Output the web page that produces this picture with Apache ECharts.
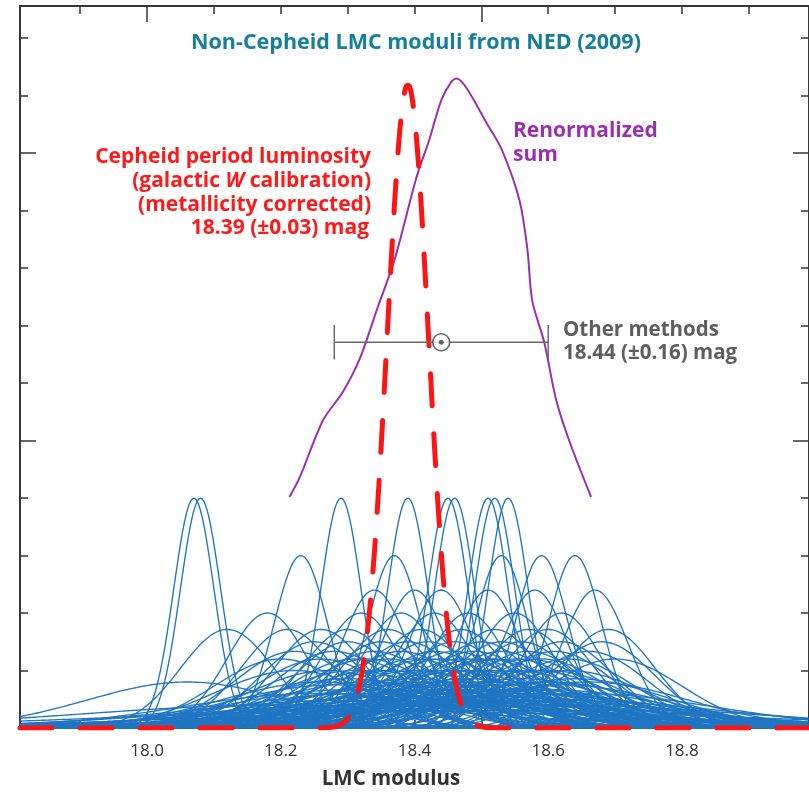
<!DOCTYPE html>
<html>
<head>
<meta charset="utf-8">
<title>Non-Cepheid LMC moduli</title>
<script src="https://cdn.jsdelivr.net/npm/echarts@6/dist/echarts.min.js"></script>
<style>
html, body { margin: 0; padding: 0; background: #fff; }
#chart { width: 809px; height: 794px; }
</style>
</head>
<body>
<div id="chart"></div>
<script>
// plotted range (the figure is cropped just short of 19.0 on the right)
var xMin = 17.81
var xMax = 18.99
var yMax = 12.56

// non-Cepheid moduli from NED: centre and quoted 1-sigma error (mag)
var nedMu = [
  18.07, 18.08, 18.29, 18.39, 18.45, 18.46, 18.51, 18.52, 18.54,
  18.23, 18.37, 18.53, 18.59, 18.64,
  18.34, 18.40, 18.44, 18.51, 18.58, 18.67,
  18.18, 18.32, 18.43, 18.48, 18.55, 18.38, 18.62,
  18.12, 18.26, 18.30, 18.36, 18.41, 18.47, 18.57, 18.60, 18.69, 18.21, 18.52,
  18.25, 18.35, 18.42, 18.50, 18.56, 18.62, 18.30, 18.39, 18.46, 18.53, 18.68,
  18.28, 18.38, 18.46, 18.53, 18.61, 18.22, 18.34, 18.43, 18.49, 18.57, 18.66,
  18.20, 18.31, 18.40, 18.44, 18.49, 18.55, 18.63, 18.26, 18.36, 18.47, 18.52, 18.59, 18.70,
  18.33, 18.42, 18.51, 18.57,
  18.27, 18.36, 18.45, 18.52, 18.58, 18.22, 18.31, 18.40, 18.49, 18.55, 18.63,
  18.34, 18.43, 18.47, 18.60,
  18.30, 18.40, 18.48, 18.56, 18.64,
  18.06, 18.33, 18.42, 18.50, 18.60, 18.26, 18.38, 18.46, 18.54, 18.66,
  18.28, 18.37, 18.45, 18.53, 18.62,
  18.35, 18.44, 18.52, 18.60, 18.30, 18.41, 18.48, 18.56,
  18.25, 18.40, 18.48, 18.56, 18.65, 18.32, 18.58,
  18.36, 18.46, 18.54,
  18.30, 18.45, 18.55, 18.38, 18.50, 18.62,
  18.40, 18.52,
  18.20, 18.42, 18.60, 18.35, 18.50,
  18.35, 18.50
]
var nedSigma = [
  0.03, 0.03, 0.03, 0.03, 0.03, 0.03, 0.03, 0.03, 0.03,
  0.04, 0.04, 0.04, 0.04, 0.04,
  0.05, 0.05, 0.05, 0.05, 0.05, 0.05,
  0.06, 0.06, 0.06, 0.06, 0.06, 0.06, 0.06,
  0.07, 0.07, 0.07, 0.07, 0.07, 0.07, 0.07, 0.07, 0.07, 0.07, 0.07,
  0.08, 0.08, 0.08, 0.08, 0.08, 0.08, 0.08, 0.08, 0.08, 0.08, 0.08,
  0.09, 0.09, 0.09, 0.09, 0.09, 0.09, 0.09, 0.09, 0.09, 0.09, 0.09,
  0.10, 0.10, 0.10, 0.10, 0.10, 0.10, 0.10, 0.10, 0.10, 0.10, 0.10, 0.10, 0.10,
  0.10, 0.10, 0.10, 0.10,
  0.12, 0.12, 0.12, 0.12, 0.12, 0.12, 0.12, 0.12, 0.12, 0.12, 0.12,
  0.12, 0.12, 0.12, 0.12,
  0.14, 0.14, 0.14, 0.14, 0.14,
  0.15, 0.15, 0.15, 0.15, 0.15, 0.15, 0.15, 0.15, 0.15, 0.15,
  0.16, 0.16, 0.16, 0.16, 0.16,
  0.18, 0.18, 0.18, 0.18, 0.18, 0.18, 0.18, 0.18,
  0.20, 0.20, 0.20, 0.20, 0.20, 0.20, 0.20,
  0.22, 0.22, 0.22,
  0.25, 0.25, 0.25, 0.25, 0.25, 0.25,
  0.28, 0.28,
  0.30, 0.30, 0.30, 0.30, 0.30,
  0.40, 0.40
]
// every blue curve has the same area: peak height = nedArea / sigma
var nedArea = 0.12

// Cepheid period-luminosity result (red dashed)
var cephMu = 18.39
var cephSigma = 0.031
var cephPeak = 11.2

// renormalized sum (purple)
var sumX = [18.213, 18.228, 18.263, 18.293, 18.318, 18.345, 18.370, 18.403, 18.422, 18.440, 18.455,
  18.463, 18.478, 18.508, 18.531, 18.557, 18.569, 18.576, 18.594, 18.612, 18.631, 18.664]
var sumY = [4.02, 4.35, 5.35, 5.85, 6.42, 7.32, 8.14, 9.58, 10.23, 10.92, 11.24,
  11.30, 11.13, 10.52, 10.05, 9.18, 8.31, 7.44, 6.71, 5.70, 5.01, 4.02]

// other methods: 18.44 +/- 0.16
var otherMu = 18.44
var otherErr = 0.16
var otherLevel = 6.71
var capHalf = 0.3

// ticks
var xTicks = [17.9, 18.0, 18.1, 18.2, 18.3, 18.4, 18.5, 18.6, 18.7, 18.8, 18.9]
var xMajor = [18.0, 18.5]
var xLabels = [18.0, 18.2, 18.4, 18.6, 18.8]
var yTicks = [1, 2, 3, 4, 5, 6, 7, 8, 9, 10, 11, 12]
var yMajor = [5, 10]

var font = "'Open Sans', 'Noto Sans', sans-serif"
var frameColor = '#363636'

function gauss (x, mu, s, amp) {
  return amp * Math.exp(-(x - mu) * (x - mu) / (2 * s * s))
}

function curve (mu, s, amp, step) {
  var pts = []
  for (var x = xMin; x <= xMax + 1e-9; x += step) {
    pts.push([x, gauss(x, mu, s, amp)])
  }
  return pts
}

var series = []
for (var i = 0; i < nedMu.length; i++) {
  series.push({
    type: 'line',
    data: curve(nedMu[i], nedSigma[i], nedArea / nedSigma[i], 0.003),
    showSymbol: false,
    silent: true,
    lineStyle: { color: '#1f75c2', width: 1.35 },
    z: 2
  })
}

series.push({
  type: 'line',
  data: sumX.map(function (x, k) { return [x, sumY[k]] }),
  showSymbol: false,
  smooth: 0.3,
  silent: true,
  lineStyle: { color: '#9b2fae', width: 2 },
  z: 3
})

series.push({
  type: 'line',
  data: curve(cephMu, cephSigma, cephPeak, 0.002),
  showSymbol: false,
  silent: true,
  lineStyle: { color: '#ff1414', width: 5, type: [32, 28], cap: 'round' },
  z: 4
})

// error bar for the other methods
var grey = '#6a6a6a'
series.push({
  type: 'line',
  data: [[otherMu - otherErr, otherLevel], [otherMu + otherErr, otherLevel]],
  showSymbol: false, silent: true,
  lineStyle: { color: grey, width: 1.5 },
  z: 5
})
;[otherMu - otherErr, otherMu + otherErr].forEach(function (x) {
  series.push({
    type: 'line',
    data: [[x, otherLevel - capHalf], [x, otherLevel + capHalf]],
    showSymbol: false, silent: true,
    lineStyle: { color: grey, width: 1.5 },
    z: 5
  })
})
series.push({
  type: 'scatter',
  data: [[otherMu, otherLevel]],
  symbol: 'circle',
  symbolSize: 17,
  silent: true,
  itemStyle: { color: '#fff', borderColor: '#444', borderWidth: 1.6 },
  z: 6
})
series.push({
  type: 'scatter',
  data: [[otherMu, otherLevel]],
  symbol: 'circle',
  symbolSize: 5,
  silent: true,
  itemStyle: { color: '#444' },
  z: 7
})

function xAxisDef (pos, ticks, len, showLine, labels) {
  return {
    type: 'value', min: xMin, max: xMax, position: pos,
    axisLine: { show: showLine, onZero: false, lineStyle: { color: frameColor, width: 2 } },
    axisTick: { show: true, inside: true, length: len, customValues: ticks, lineStyle: { color: frameColor, width: 1.5 } },
    axisLabel: labels ? {
      customValues: labels, color: '#333', fontSize: 17, fontFamily: font, margin: 15,
      formatter: function (v) { return v.toFixed(1) }
    } : { show: false },
    splitLine: { show: false }
  }
}
function yAxisDef (pos, ticks, len, showLine) {
  return {
    type: 'value', min: 0, max: yMax, position: pos,
    axisLine: { show: showLine, onZero: false, lineStyle: { color: frameColor, width: 2 } },
    axisTick: { show: true, inside: true, length: len, customValues: ticks, lineStyle: { color: frameColor, width: 1.5 } },
    axisLabel: { show: false },
    splitLine: { show: false }
  }
}

function label (text, x, y, color, align, size) {
  return {
    type: 'text', x: x, y: y, silent: true,
    style: {
      text: text, fill: color, font: 'bold ' + (size || 21) + 'px ' + font,
      textAlign: align || 'left', textVerticalAlign: 'middle'
    }
  }
}

var red = '#ff1a1a'
var option = {
  animation: false,
  grid: { left: 20, top: 6, width: 790, height: 722, containLabel: false },
  xAxis: [
    xAxisDef('bottom', xTicks, 8, true, xLabels),
    xAxisDef('bottom', xMajor, 16, false, null),
    xAxisDef('top', xTicks, 8, true, null),
    xAxisDef('top', xMajor, 16, false, null)
  ],
  yAxis: [
    yAxisDef('left', yTicks, 8, true),
    yAxisDef('left', yMajor, 16, false),
    yAxisDef('right', yTicks, 8, true),
    yAxisDef('right', yMajor, 16, false)
  ],
  series: series,
  graphic: [
    label('Non-Cepheid LMC moduli from NED (2009)', 416, 43, '#16809b', 'center', 21.5),
    label('Cepheid period luminosity', 371, 157, red, 'right'),
    {
      type: 'text', x: 371, y: 181, silent: true,
      style: {
        text: '{n|(galactic }{i|W}{n| calibration)}',
        textAlign: 'right', textVerticalAlign: 'middle',
        rich: {
          n: { fill: red, font: 'bold 21px ' + font },
          i: { fill: red, font: 'italic bold 21px ' + font }
        }
      }
    },
    label('(metallicity corrected)', 371, 205, red, 'right'),
    label('18.39 (\u00b10.03) mag', 369, 228, red, 'right'),
    label('Renormalized', 513, 131, '#9b2fae', 'left'),
    label('sum', 513, 155, '#9b2fae', 'left'),
    label('Other methods', 563, 330, '#5e5e5e', 'left', 20.5),
    label('18.44 (\u00b10.16) mag', 563, 353, '#5e5e5e', 'left', 20.5),
    label('LMC modulus', 391, 779, '#333', 'center', 20.5)
  ]
}

var chart = echarts.init(document.getElementById('chart'))
chart.setOption(option)
</script>
</body>
</html>
